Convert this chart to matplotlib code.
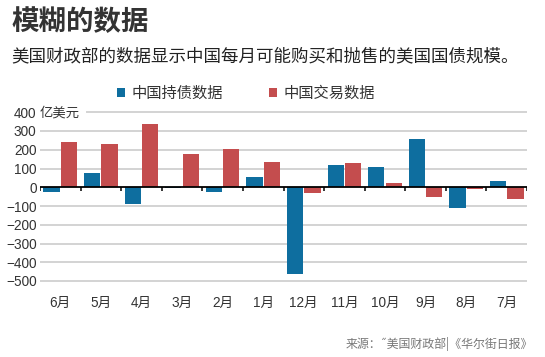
import matplotlib
matplotlib.use("Agg")
import matplotlib.pyplot as plt
from matplotlib.patches import Patch
import numpy as np

plt.rcParams['font.family'] = ['Liberation Sans', 'Noto Sans CJK SC', 'DejaVu Sans']

months = ["6月", "5月", "4月", "3月", "2月", "1月", "12月", "11月", "10月", "9月", "8月", "7月"]
holdings = [-23, 75, -87, -3, -25, 55, -462, 121, 107, 256, -109, 35]
transactions = [240, 233, 336, 179, 203, 135, -29, 128, 21, -52, -9, -62]
yticks = [400, 300, 200, 100, 0, -100, -200, -300, -400, -500]

title = "模糊的数据"
subtitle = "美国财政部的数据显示中国每月可能购买和抛售的美国国债规模。"
legend_labels = ["中国持债数据", "中国交易数据"]
unit = "亿美元"
source = "来源：˝美国财政部|《华尔街日报》"

BLUE = "#0E6E9F"
RED = "#C44D4E"
TXT = "#333333"

fig = plt.figure(figsize=(5.45, 3.57), dpi=100)
ax = fig.add_axes([40/545, 1-284.75/357, 487/545, (284.75-108.5)/357])

x = np.arange(len(months))
for v in yticks:
    if v == 0:
        continue
    xmin = 0.097 if v == 400 else 0
    ax.axhline(v, xmin=xmin, xmax=1, color="#d3d3d3", lw=1.4, zorder=0)

ax.bar(x - 0.215, holdings, width=0.4, color=BLUE, zorder=2)
ax.bar(x + 0.215, transactions, width=0.4, color=RED, zorder=2)
ax.axhline(0, color="black", lw=1.3, zorder=3)
ax.vlines(np.arange(len(months) + 1) - 0.5, -22, 3, color="black", lw=1.1, zorder=3)

ax.set_xlim(-0.5, len(months) - 0.5)
ax.set_ylim(-520, 420)
ax.set_xticks(x)
ax.set_xticklabels(months)
ax.set_yticks(yticks)
ax.set_yticklabels([f"{v}".replace("-", "\u2212") for v in yticks])
ax.tick_params(axis="x", length=0, pad=8, labelsize=9.8, colors=TXT)
ax.tick_params(axis="y", length=0, pad=2.5, labelsize=9.8, colors=TXT)
for s in ax.spines.values():
    s.set_visible(False)

ax.text(-0.001, 400, unit, transform=ax.get_yaxis_transform(), ha="left", va="center",
        fontsize=9.6, color=TXT, family=['Noto Sans CJK SC'])

handles = [Patch(facecolor=BLUE), Patch(facecolor=RED)]
fig.legend(handles, legend_labels, ncol=2, loc="center", bbox_to_anchor=(0.452, 0.738),
           frameon=False, handlelength=0.5, handleheight=0.5, handletextpad=0.45,
           columnspacing=3.0, prop={'family': 'Noto Sans CJK SC', 'size': 11},
           labelcolor=TXT)

fig.text(0.021, 0.938, title, ha="left", va="center", fontsize=19.8, fontweight="bold",
         color=TXT, family=['Noto Sans CJK SC'])
fig.text(0.020, 0.843, subtitle, ha="left", va="center", fontsize=12.6,
         color="#222222", family=['Noto Sans CJK SC'])
fig.text(0.978, 0.036, source, ha="right", va="center", fontsize=8.6,
         color="#777777", family=['Noto Sans CJK SC', 'DejaVu Sans'])

fig.savefig("out.png", dpi=100)
